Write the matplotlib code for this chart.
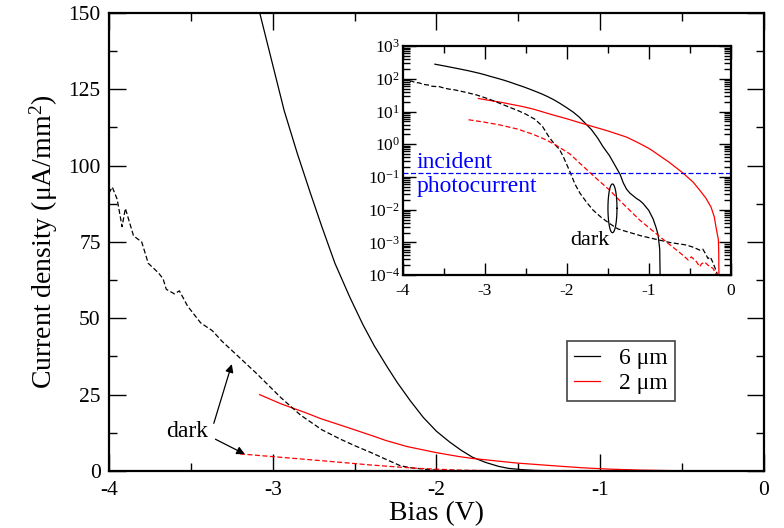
import numpy as np
import matplotlib
matplotlib.use("Agg")
import matplotlib.pyplot as plt
from matplotlib.ticker import MultipleLocator, LogLocator, NullFormatter

plt.rcParams['font.family'] = ['Liberation Serif', 'DejaVu Serif']
plt.rcParams['mathtext.fontset'] = 'custom'
plt.rcParams['mathtext.rm'] = 'Liberation Serif'
plt.rcParams['mathtext.it'] = 'Liberation Serif:italic'
plt.rcParams['axes.unicode_minus'] = False

# 6 um, under illumination
bias_6um = [-3.61, -3.45, -3.30, -3.20, -3.07, -3.00, -2.93, -2.85, -2.77, -2.70,
            -2.62, -2.53, -2.45, -2.38, -2.30, -2.24, -2.16, -2.08, -2.00, -1.92,
            -1.85, -1.78, -1.70, -1.62, -1.56, -1.48, -1.40, -1.35, -1.31, -1.27,
            -1.23, -1.15, -1.11, -1.07, -1.00, -0.947, -0.91, -0.886, -0.866, -0.86]
j_6um = [280, 235, 198, 176, 148, 133, 118, 104, 91, 80,
         68, 57, 48, 41, 34, 29, 23, 17.5, 13, 9.5,
         6.8, 4.5, 2.8, 1.5, 0.85, 0.45, 0.2, 0.12, 0.065, 0.042,
         0.032, 0.022, 0.019, 0.0155, 0.0095, 0.0052, 0.0028, 0.0017, 0.0006, 0.00005]

# 6 um, dark
bias_6um_dark = [-4.00, -3.98, -3.95, -3.92, -3.90, -3.85, -3.80, -3.76, -3.70, -3.67,
                 -3.65, -3.60, -3.57, -3.52, -3.44, -3.37, -3.31, -3.24, -3.10, -2.95,
                 -2.83, -2.70, -2.59, -2.50, -2.39, -2.30, -2.22, -2.15, -2.09, -2.04,
                 -1.96, -1.90, -1.84, -1.76, -1.68, -1.58, -1.48, -1.38, -1.313, -1.10,
                 -0.947, -0.75, -0.54, -0.45, -0.378, -0.34, -0.305, -0.277, -0.25, -0.216,
                 -0.17, -0.14]
j_6um_dark = [91, 93, 89, 80, 86, 77, 75, 68, 65, 63,
              59.5, 58, 59, 54, 48.5, 46, 42.5, 39, 32, 24,
              18.3, 13.5, 10.5, 8.3, 5.8, 3.6, 1.7, 1.0, 0.7, 0.4,
              0.14, 0.06, 0.032, 0.017, 0.0097, 0.0058, 0.0038, 0.0026, 0.0023, 0.0016,
              0.0013, 0.0010, 0.00083, 0.0007, 0.00058, 0.00062, 0.00044, 0.00032, 0.00036, 0.00024,
              0.00012, 0.00005]

# 2 um, under illumination
bias_2um = [-3.08, -2.95, -2.79, -2.71, -2.54, -2.39, -2.31, -2.18, -2.00, -1.86,
            -1.78, -1.51, -1.27, -1.11, -1.00, -0.95, -0.75, -0.58, -0.46, -0.38,
            -0.30, -0.24, -0.20, -0.18, -0.15, -0.146, -0.142]
j_2um = [25, 22.0, 18.9, 17.2, 14.2, 11.5, 10.0, 8.0, 6.0, 4.7,
         4.1, 2.6, 1.65, 1.05, 0.75, 0.62, 0.28, 0.13, 0.07, 0.04,
         0.022, 0.012, 0.006, 0.003, 0.0012, 0.0005, 0.00003]

# 2 um, dark
bias_2um_dark = [-3.20, -3.00, -2.82, -2.60, -2.41, -2.25, -2.13, -2.09, -1.96, -1.84,
                 -1.66, -1.48, -1.354, -1.30, -1.11, -0.866, -0.66, -0.58, -0.52, -0.48,
                 -0.42, -0.378, -0.357, -0.317, -0.277, -0.216, -0.17, -0.15]
j_2um_dark = [5.6, 4.7, 3.9, 2.9, 2.0, 1.35, 0.93, 0.8, 0.5, 0.26,
              0.1, 0.04, 0.019, 0.014, 0.0048, 0.0015, 0.00058, 0.0004, 0.00029, 0.00036,
              0.00026, 0.00018, 0.00022, 0.00025, 0.0002, 0.00016, 0.0001, 0.00006]

incident_photocurrent = 0.13

fig = plt.figure(figsize=(7.84, 5.28), dpi=100)
ax = fig.add_axes([0.139, 0.108, 0.8355, 0.8674])

lw = 0.9
ax.plot(bias_6um, j_6um, color='black', lw=lw, label='6 μm')
ax.plot(bias_2um, j_2um, color='red', lw=lw, label='2 μm')
ax.plot(bias_6um_dark, j_6um_dark, color='black', lw=lw, ls=(0, (4, 2)))
ax.plot(bias_2um_dark, j_2um_dark, color='red', lw=lw, ls=(0, (4, 2)))

ax.set_xlim(-4, 0)
ax.set_ylim(0, 150)
ax.xaxis.set_major_locator(MultipleLocator(1))
ax.xaxis.set_minor_locator(MultipleLocator(0.5))
ax.yaxis.set_major_locator(MultipleLocator(25))
ax.yaxis.set_minor_locator(MultipleLocator(12.5))
ax.tick_params(which='both', direction='in', top=True, right=True, width=1)
ax.tick_params(which='major', length=12, labelsize=15.5)
ax.tick_params(which='minor', length=6)
ax.tick_params(axis='y', pad=6)
ax.tick_params(axis='x', pad=7)
for s in ax.spines.values():
    s.set_linewidth(1.6)

ax.set_xlabel('Bias (V)', fontsize=20, labelpad=1)
ax.set_ylabel('Current density (μA/mm$^2$)', fontsize=20, labelpad=6)

leg = ax.legend(loc='upper left', bbox_to_anchor=(0.6997, 0.2845), borderaxespad=0,
                fontsize=17, handlelength=1.1, handletextpad=0.8, fancybox=False,
                framealpha=1, edgecolor='#444444', borderpad=0.3, labelspacing=0.15)
leg.get_frame().set_linewidth(1.2)

ax.text(-3.52, 12.9, 'dark', fontsize=17, ha='center', va='center')
arrow = dict(arrowstyle='-|>', color='black', lw=0.9, mutation_scale=12, shrinkA=0, shrinkB=0)
ax.annotate('', xy=(-3.25, 35), xytext=(-3.36, 15.6), arrowprops=arrow)
ax.annotate('', xy=(-3.17, 5.5), xytext=(-3.35, 10.4), arrowprops=arrow)

# inset on log scale
ins = fig.add_axes([0.514, 0.479, 0.418, 0.4337])
ins.plot(bias_6um, j_6um, color='black', lw=lw)
ins.plot(bias_2um, j_2um, color='red', lw=lw)
ins.plot(bias_6um_dark, j_6um_dark, color='black', lw=lw, ls=(0, (4, 2)))
ins.plot(bias_2um_dark, j_2um_dark, color='red', lw=lw, ls=(0, (4, 2)))
ins.axhline(incident_photocurrent, color='blue', lw=lw, ls=(0, (4, 2)))
ins.set_yscale('log')
ins.set_xlim(-4, 0)
ins.set_ylim(1e-4, 1e3)
ins.xaxis.set_major_locator(MultipleLocator(1))
ins.xaxis.set_minor_locator(MultipleLocator(0.5))
ins.yaxis.set_major_locator(LogLocator(base=10, numticks=20))
ins.yaxis.set_minor_locator(LogLocator(base=10, subs=np.arange(2, 10), numticks=20))
ins.yaxis.set_minor_formatter(NullFormatter())
ins.tick_params(which='both', direction='in', top=True, right=True, width=1)
ins.tick_params(which='major', length=9, labelsize=12.5)
ins.tick_params(which='minor', length=5)
ins.tick_params(axis='y', pad=2)
ins.tick_params(axis='x', pad=6)
for s in ins.spines.values():
    s.set_linewidth(1.6)

ins.text(-3.83, 10 ** -0.73, 'incident', color='blue', fontsize=17, va='baseline')
ins.text(-3.83, 10 ** -1.45, 'photocurrent', color='blue', fontsize=17, va='baseline')

t = np.linspace(0, 2 * np.pi, 100)
ins.plot(-1.443 + 0.055 * np.cos(t), 10 ** (-1.96 + 0.745 * np.sin(t)), color='black', lw=lw)
ins.text(-1.72, 10 ** -2.95, 'dark', fontsize=16, ha='center', va='center')

fig.savefig('out.png', dpi=100)
